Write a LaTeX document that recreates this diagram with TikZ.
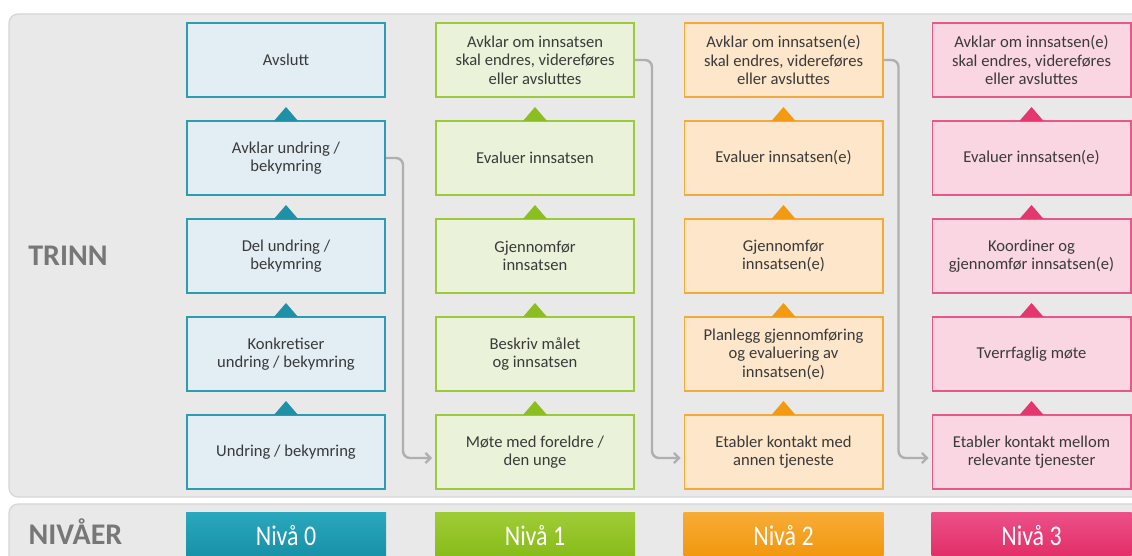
\documentclass[tikz,border=0pt]{standalone}
\usepackage{fontspec}
\setmainfont{Carlito}
\usetikzlibrary{arrows.meta,calc}
\definecolor{txt}{HTML}{3A3A3A}
\definecolor{lblgray}{HTML}{777777}
\definecolor{panel}{HTML}{EAE9EA}
\definecolor{panelB}{HTML}{D6D6D6}
\definecolor{connC}{HTML}{AFAFAF}
\definecolor{tealB}{HTML}{2C9CB2}
\definecolor{tealF}{HTML}{E3EDF4}
\definecolor{tealT}{HTML}{1E91A6}
\definecolor{tealTop}{HTML}{2AA8BE}
\definecolor{tealBot}{HTML}{168FA6}
\definecolor{greenB}{HTML}{9BCB3A}
\definecolor{greenF}{HTML}{EAF3DA}
\definecolor{greenT}{HTML}{8BBE1F}
\definecolor{greenTop}{HTML}{9FCC36}
\definecolor{greenBot}{HTML}{86BB17}
\definecolor{orangeB}{HTML}{F6A93B}
\definecolor{orangeF}{HTML}{FDE6C9}
\definecolor{orangeT}{HTML}{F39A10}
\definecolor{orangeTop}{HTML}{F7AC36}
\definecolor{orangeBot}{HTML}{F2950B}
\definecolor{pinkB}{HTML}{E8578A}
\definecolor{pinkF}{HTML}{FAD6E2}
\definecolor{pinkT}{HTML}{E5376F}
\definecolor{pinkTop}{HTML}{EC5187}
\definecolor{pinkBot}{HTML}{E22A66}
\begin{document}
\begin{tikzpicture}[x=1pt,y=-1pt,
  stepbox/.style={draw, line width=1.8pt, minimum width=198.2pt, minimum height=74.2pt,
    inner sep=2pt, align=center, text=txt, font=\fontsize{16.6}{18.5}\selectfont},
  c0/.style={stepbox, draw=tealB, fill=tealF},
  c1/.style={stepbox, draw=greenB, fill=greenF},
  c2/.style={stepbox, draw=orangeB, fill=orangeF},
  c3/.style={stepbox, draw=pinkB, fill=pinkF},
  conn/.style={draw=connC, line width=2.4pt, rounded corners=7pt, shorten >=3pt,
    -{Straight Barb[length=5pt,width=10pt,line width=2.2pt]}},
  bar/.style={minimum width=200pt, minimum height=48pt, inner sep=0pt, text=white,
    text height=18pt, text depth=0pt, font=\fontsize{28.5}{30}\selectfont},
  biglbl/.style={text=lblgray, font=\bfseries\fontsize{30}{32}\selectfont, inner sep=0pt,
    text height=19.5pt, text depth=0pt},
  panelbox/.style={fill=panel, draw=panelB, line width=1.2pt, rounded corners=9pt}
]
\useasboundingbox (0,0) rectangle (1132,556);
\clip (0,0) rectangle (1132,556);
\fill[white] (0,0) rectangle (1132,556);
% panels
\path[panelbox] (9,14) rectangle (1160,497);
\path[panelbox] (9,504) rectangle (1160,600);
% labels
\node[biglbl] (trinn) at (68,255.5) {TRINN};
\node[biglbl] (nivaer) at (75.5,535) {NIVÅER};
% column 0
\node[c0] (a1) at (286,60) {Avslutt};
\node[c0] (a2) at (286,158) {Avklar undring /\\bekymring};
\node[c0] (a3) at (286,256) {Del undring /\\bekymring};
\node[c0] (a4) at (286,354) {Konkretiser\\undring / bekymring};
\node[c0] (a5) at (286,452) {Undring / bekymring};
% column 1
\node[c1] (b1) at (535,60) {Avklar om innsatsen\\skal endres, videreføres\\eller avsluttes};
\node[c1] (b2) at (535,158) {Evaluer innsatsen};
\node[c1] (b3) at (535,256) {Gjennomfør\\innsatsen};
\node[c1] (b4) at (535,354) {Beskriv målet\\og innsatsen};
\node[c1] (b5) at (535,452) {Møte med foreldre /\\den unge};
% column 2
\node[c2] (c1) at (783.5,60) {Avklar om innsatsen(e)\\skal endres, videreføres\\eller avsluttes};
\node[c2] (c2) at (783.5,158) {Evaluer innsatsen(e)};
\node[c2] (c3) at (783.5,256) {Gjennomfør\\innsatsen(e)};
\node[c2] (c4) at (783.5,354) {Planlegg gjennomføring\\og evaluering av\\innsatsen(e)};
\node[c2] (c5) at (783.5,452) {Etabler kontakt med\\annen tjeneste};
% column 3
\node[c3] (d1) at (1031.5,60) {Avklar om innsatsen(e)\\skal endres, videreføres\\eller avsluttes};
\node[c3] (d2) at (1031.5,158) {Evaluer innsatsen(e)};
\node[c3] (d3) at (1031.5,256) {Koordiner og\\gjennomfør innsatsen(e)};
\node[c3] (d4) at (1031.5,354) {Tverrfaglig møte};
\node[c3] (d5) at (1031.5,452) {Etabler kontakt mellom\\relevante tjenester};
% triangles
\foreach \c/\col in {a/tealT,b/greenT,c/orangeT,d/pinkT}{
  \foreach \r in {2,3,4,5}{
    \fill[\col] ($(\c\r.north)+(-12,0.9)$) -- ($(\c\r.north)+(0,-13)$) -- ($(\c\r.north)+(12,0.9)$) -- cycle;
  }
}
% connectors
\coordinate (eb) at ($(b5.west)+(0,6)$);
\coordinate (ec) at ($(c5.west)+(0,6)$);
\coordinate (ed) at ($(d5.west)+(0,6)$);
\draw[conn] (a2.east) -- ++(17,0) |- (eb);
\draw[conn] (b1.east) -- ++(17,0) |- (ec);
\draw[conn] (c1.east) -- ++(15,0) |- (ed);
% level bars
\node[bar, top color=tealTop, bottom color=tealBot] (n0) at (286,536) {\scalebox{0.84}[1]{Nivå 0}};
\node[bar, top color=greenTop, bottom color=greenBot] (n1) at (535,536) {\scalebox{0.84}[1]{Nivå 1}};
\node[bar, top color=orangeTop, bottom color=orangeBot] (n2) at (783.5,536) {\scalebox{0.84}[1]{Nivå 2}};
\node[bar, top color=pinkTop, bottom color=pinkBot] (n3) at (1031.5,536) {\scalebox{0.84}[1]{Nivå 3}};
\end{tikzpicture}
\end{document}
